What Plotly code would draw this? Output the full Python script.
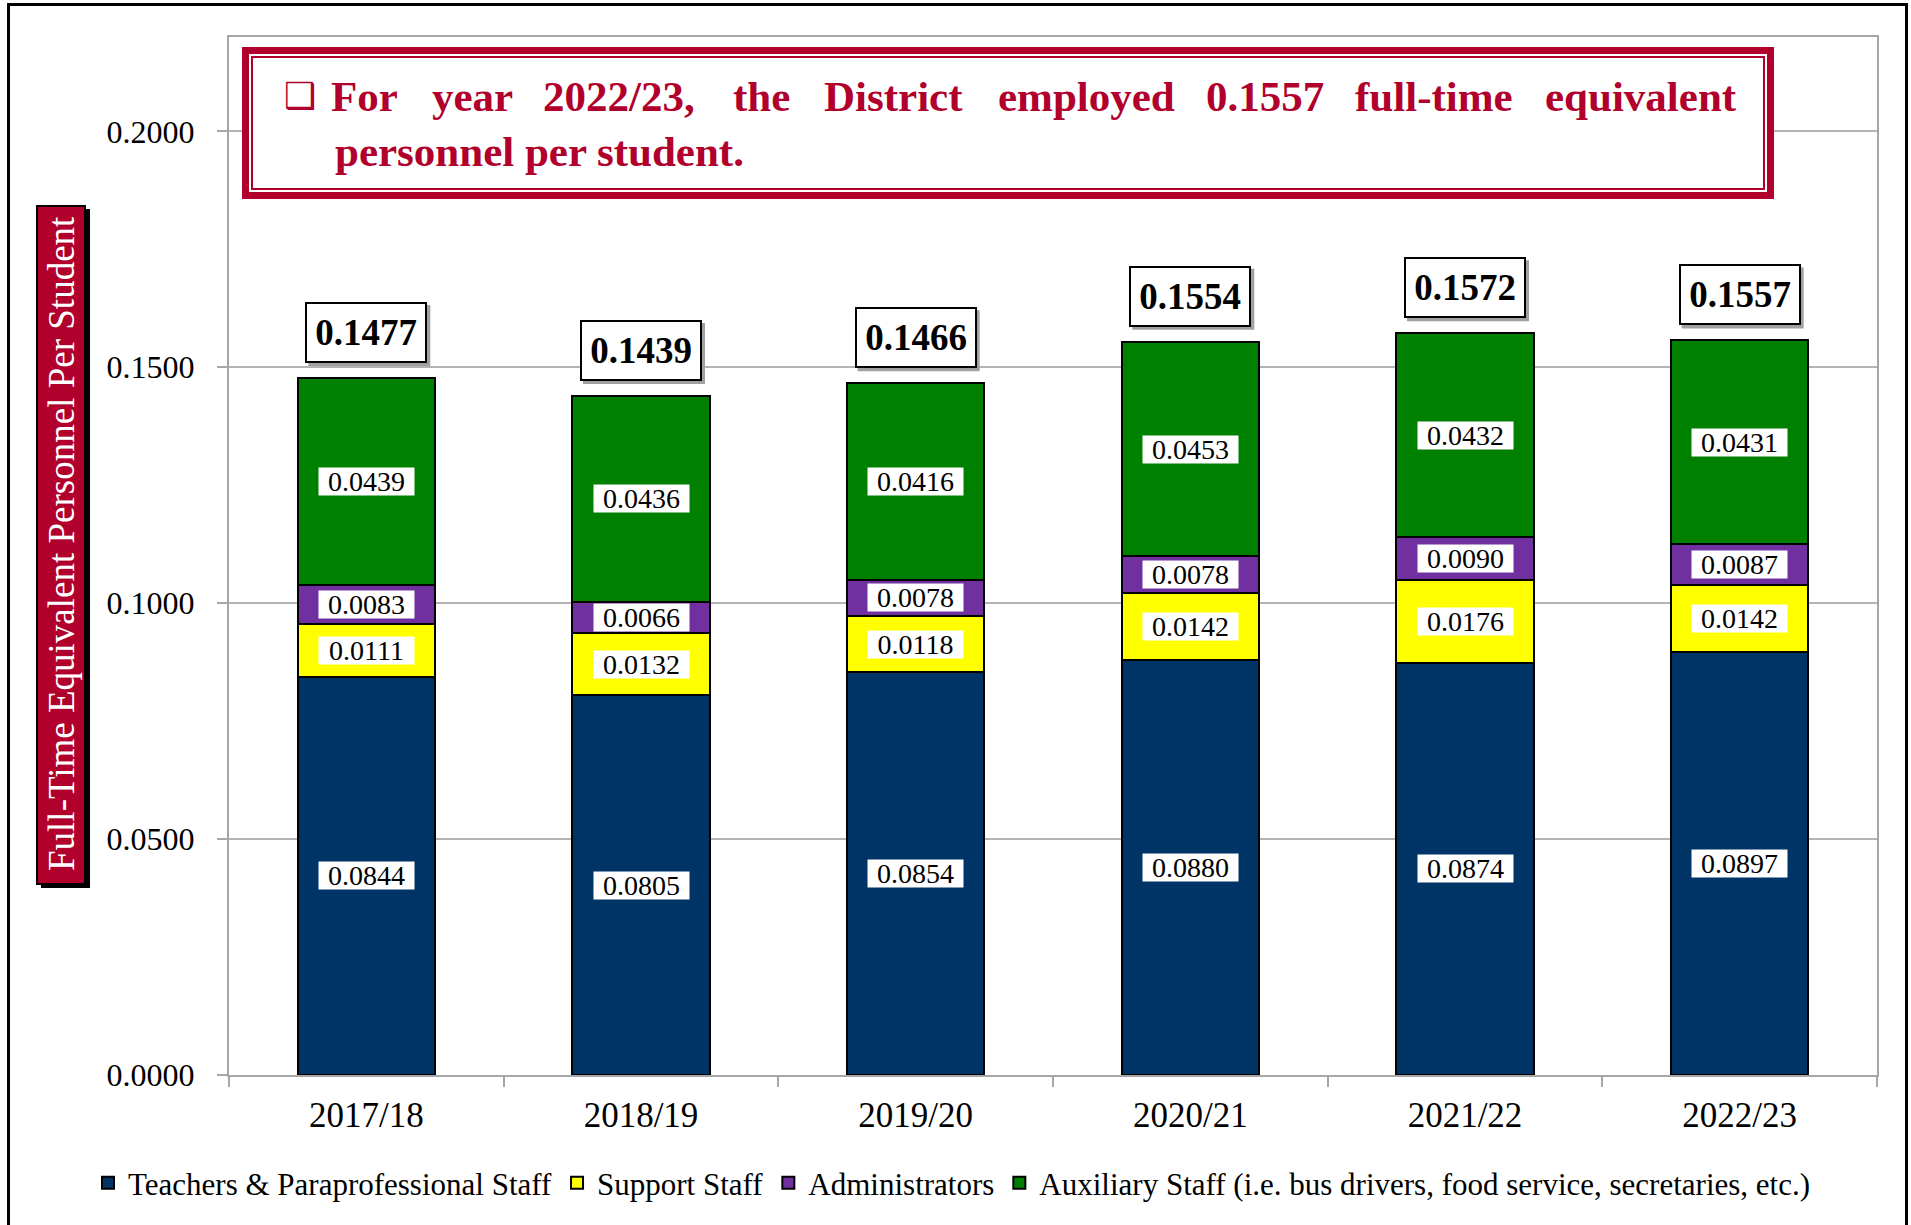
import plotly.graph_objects as go

# ---------------- data ----------------
years = ["2017/18", "2018/19", "2019/20", "2020/21", "2021/22", "2022/23"]
teachers = [0.0844, 0.0805, 0.0854, 0.0880, 0.0874, 0.0897]
support = [0.0111, 0.0132, 0.0118, 0.0142, 0.0176, 0.0142]
admins = [0.0083, 0.0066, 0.0078, 0.0078, 0.0090, 0.0087]
auxiliary = [0.0439, 0.0436, 0.0416, 0.0453, 0.0432, 0.0431]
totals = [0.1477, 0.1439, 0.1466, 0.1554, 0.1572, 0.1557]
series_names = [
    "Teachers & Paraprofessional Staff",
    "Support Staff",
    "Administrators",
    "Auxiliary Staff (i.e. bus drivers, food service, secretaries, etc.)",
]
y_ticks = [0.0, 0.05, 0.10, 0.15, 0.20]
title_line1 = ["For", "year", "2022/23,", "the", "District", "employed",
               "0.1557", "full-time", "equivalent"]
title_line2 = "personnel per student."
y_title = "Full-Time Equivalent Personnel Per Student"

# ---------------- style ----------------
colors = ["#003366", "#FFFF00", "#7030A0", "#008000"]
CRIMSON = "#B0002B"
SERIF = "Liberation Serif"
GRAY = "#A6A6A6"

W, H = 1911, 1225
L, R, T, B = 229, 1877, 37, 1075


def px(X):
    return (X - L) / (R - L)


def py(Y):
    return (B - Y) / (B - T)


fig = go.Figure()
series = [teachers, support, admins, auxiliary]
for name, vals, col in zip(series_names, series, colors):
    fig.add_bar(
        x=years, y=vals, name=name,
        marker=dict(color=col, line=dict(color="black", width=2)),
    )

# segment value labels (white boxes)
for i, yr in enumerate(years):
    base = 0.0
    for vals in series:
        v = vals[i]
        fig.add_annotation(
            x=yr, y=base + v / 2, text=f"{v:.4f}", showarrow=False,
            bgcolor="white", borderpad=1, width=93, height=25,
            font=dict(family=SERIF, size=28, color="black"),
        )
        base += v

# total labels with shadow
for i, yr in enumerate(years):
    fig.add_shape(
        type="rect", xref="x", yref="y", xsizemode="pixel", ysizemode="pixel",
        xanchor=i, yanchor=totals[i], x0=-58, x1=64, y0=12, y1=73,
        fillcolor="#A0A0A0", line=dict(width=0), layer="above",
    )
    fig.add_annotation(
        x=yr, y=totals[i], text=f"<b>{totals[i]:.4f}</b>", showarrow=False,
        yanchor="bottom", yshift=15, bgcolor="white", bordercolor="black",
        borderwidth=2, borderpad=0, width=118, height=57,
        font=dict(family=SERIF, size=37, color="black"),
    )

# ---------------- title box ----------------
fig.add_shape(type="rect", xref="paper", yref="paper",
              x0=px(245.5), x1=px(1770.5), y0=py(195.5), y1=py(50.5),
              fillcolor="white", line=dict(color=CRIMSON, width=7), layer="above")
fig.add_shape(type="rect", xref="paper", yref="paper",
              x0=px(252), x1=px(1764), y0=py(189), y1=py(57),
              line=dict(color=CRIMSON, width=2), layer="above")

fig.add_annotation(xref="paper", yref="paper", x=px(299.5), y=py(96),
                   text="❑", showarrow=False, xanchor="center", yanchor="middle",
                   font=dict(family="DejaVu Sans", size=36, color=CRIMSON))
word_centers = [364, 472, 619, 761, 893, 1086, 1265, 1434, 1641]
for w, cx in zip(title_line1, word_centers):
    fig.add_annotation(xref="paper", yref="paper", x=px(cx), y=py(97),
                       text=f"<b>{w}</b>", showarrow=False,
                       xanchor="center", yanchor="middle",
                       font=dict(family=SERIF, size=43, color=CRIMSON))
fig.add_annotation(xref="paper", yref="paper", x=px(333), y=py(151),
                   text=f"<b>{title_line2}</b>", showarrow=False,
                   xanchor="left", yanchor="middle",
                   font=dict(family=SERIF, size=43, color=CRIMSON))

# ---------------- y-axis title box ----------------
fig.add_shape(type="rect", xref="paper", yref="paper",
              x0=px(41), x1=px(90), y0=py(888), y1=py(209),
              fillcolor="black", line=dict(width=0), layer="above")
fig.add_shape(type="rect", xref="paper", yref="paper",
              x0=px(37), x1=px(85), y0=py(884), y1=py(206),
              fillcolor=CRIMSON, line=dict(color="black", width=2), layer="above")
fig.add_annotation(xref="paper", yref="paper", x=px(61), y=py(544),
                   text=y_title, textangle=-90, showarrow=False,
                   xanchor="center", yanchor="middle",
                   font=dict(family=SERIF, size=37, color="white"))

# ---------------- outer frame ----------------
fig.add_shape(type="rect", xref="paper", yref="paper",
              x0=px(8.5), x1=px(1906.5), y0=py(1240), y1=py(4.5),
              line=dict(color="black", width=3), layer="above")

fig.update_layout(
    width=W, height=H,
    margin=dict(l=L, r=W - R, t=T, b=H - B),
    paper_bgcolor="white", plot_bgcolor="white",
    barmode="stack", bargap=0.5,
    showlegend=True,
    legend=dict(
        orientation="h", x=px(88), xanchor="left", y=py(1183), yanchor="middle",
        font=dict(family=SERIF, size=31, color="black"),
        itemwidth=30, traceorder="normal", bgcolor="rgba(0,0,0,0)",
    ),
    font=dict(family=SERIF, color="black"),
    hovermode=False,
)
fig.update_yaxes(
    range=[0, 0.22], tickvals=y_ticks, tickformat=".4f",
    showgrid=True, gridcolor="#B4B4B4", gridwidth=1.5,
    showline=True, linecolor=GRAY, linewidth=2, mirror=True,
    ticks="outside", ticklen=10, tickwidth=2, tickcolor=GRAY,
    tickfont=dict(family=SERIF, size=32, color="black"),
    ticklabelstandoff=16, zeroline=False,
)
fig.update_xaxes(
    showline=True, linecolor=GRAY, linewidth=2, mirror=True,
    ticks="outside", tickson="boundaries", ticklen=10, tickwidth=2, tickcolor=GRAY,
    tickfont=dict(family=SERIF, size=35, color="black"),
    ticklabelstandoff=8,
)

fig.write_html("out.html", config={"displayModeBar": False},
               post_script="document.body.style.margin='0';document.body.style.overflow='hidden';")
